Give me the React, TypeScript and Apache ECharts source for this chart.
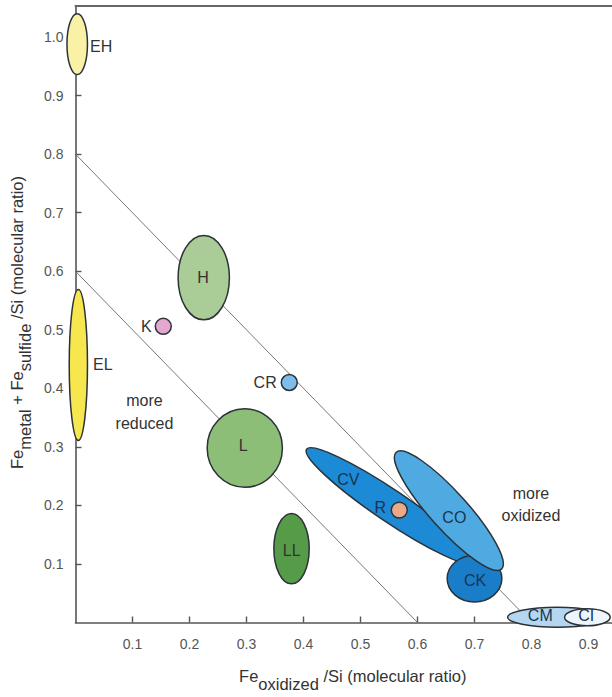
import { useEffect, useRef } from 'react';
import * as echarts from 'echarts';

// Chondrite groups: centre and half-extent of each field, in molecular ratios
const groups = ['EH', 'EL', 'H', 'L', 'LL', 'K', 'CR', 'CV', 'CK', 'CO', 'R', 'CM', 'CI'];
const centerOx = [0.003, 0.005, 0.225, 0.297, 0.379, 0.154, 0.375, 0.553, 0.7, 0.655, 0.568, 0.845, 0.898];
const centerRed = [0.988, 0.44, 0.589, 0.298, 0.126, 0.506, 0.41, 0.199, 0.075, 0.191, 0.192, 0.009, 0.009];
const spreadOx = [0.018, 0.016, 0.045, 0.066, 0.031, 0.014, 0.014, 0.178, 0.048, 0.138, 0.014, 0.087, 0.04];
const spreadRed = [0.052, 0.129, 0.072, 0.067, 0.06, 0.0136, 0.0136, 0.027, 0.04, 0.032, 0.0136, 0.017, 0.0145];
const tiltDeg = [0, 0, 0, 0, 0, 0, 0, -34, 0, -48, 0, 0, 0];

// Lines of constant total iron
const upperBoundary = [[0, 0.8], [0.8, 0]];
const lowerBoundary = [[0, 0.6], [0.6, 0]];

// Text annotations, anchored in data coordinates
const labelText = ['EH', 'EL', 'H', 'L', 'LL', 'K', 'CR', 'CV', 'CK', 'CO', 'R', 'CM', 'CI', 'more\nreduced', 'more\noxidized'];
const labelOx = [0.0254, 0.0307, 0.2237, 0.2944, 0.3793, 0.1337, 0.353, 0.4786, 0.7009, 0.6646, 0.5447, 0.8154, 0.8961, 0.121, 0.799];
const labelRed = [0.984, 0.44, 0.589, 0.303, 0.1227, 0.5058, 0.4106, 0.2445, 0.0717, 0.1794, 0.1964, 0.0122, 0.0122, 0.3596, 0.2015];

const xTicks = [0.1, 0.2, 0.3, 0.4, 0.5, 0.6, 0.7, 0.8, 0.9];
const yTicks = [0.1, 0.2, 0.3, 0.4, 0.5, 0.6, 0.7, 0.8, 0.9, 1.0];

const FONT = '"Liberation Sans", Arial, Helvetica, sans-serif';

const fills: Record<string, string> = {
  EH: '#f9f1a6', EL: '#f7e74e', H: '#aacc96', L: '#8cbe78', LL: '#569c48',
  K: '#e2a8cf', CR: '#7fbce9', CV: '#1c8ad5', CK: '#1a7dc8', CO: '#50aae2',
  R: '#eca98a', CM: '#b4d6f1', CI: '#eef5fb',
};
const labelAlign: Record<string, string> = { EH: 'left', EL: 'left', K: 'right', CR: 'right', R: 'right' };
const blueText = new Set(['CV', 'CK', 'CO', 'R', 'CM', 'CI']);

export default function App() {
  const ref = useRef<HTMLDivElement>(null);

  useEffect(() => {
    if (!ref.current) return;
    const chart = echarts.init(ref.current, undefined, { renderer: 'svg' });

    const titleRich = {
      main: { fontFamily: FONT, fontSize: 16.5, color: '#333', lineHeight: 20, padding: [0, 0, 8, 0] },
      sub: { fontFamily: FONT, fontSize: 16.5, color: '#333', lineHeight: 20, padding: [8, 0, 0, 0] },
    };

    chart.setOption({
      animation: false,
      grid: { left: 75.5, right: 0, top: 5.5, bottom: 71.5, containLabel: false },
      xAxis: [
        {
          type: 'value', min: 0, max: 0.9412, position: 'bottom',
          splitLine: { show: false },
          axisLine: { lineStyle: { color: '#555', width: 1.6 } },
          axisTick: { inside: true, length: 6, customValues: xTicks, lineStyle: { color: '#555', width: 1.4 } },
          axisLabel: {
            customValues: xTicks, margin: 14, color: '#555', fontFamily: FONT, fontSize: 14,
            formatter: (v: number) => v.toFixed(1),
          },
          name: '{main|Fe}{sub|oxidized}{main| /Si (molecular ratio)}',
          nameLocation: 'middle', nameGap: 47,
          nameTextStyle: { fontFamily: FONT, fontSize: 16.5, color: '#333', padding: [0, 0, 0, 18], rich: titleRich },
        },
        {
          type: 'value', min: 0, max: 0.9412, position: 'top',
          splitLine: { show: false }, axisTick: { show: false }, axisLabel: { show: false },
          axisLine: { lineStyle: { color: '#666', width: 2 } },
        },
      ],
      yAxis: {
        type: 'value', min: 0, max: 1.054,
        splitLine: { show: false },
        axisLine: { lineStyle: { color: '#555', width: 1.6 } },
        axisTick: { inside: true, length: 6, customValues: yTicks, lineStyle: { color: '#555', width: 1.4 } },
        axisLabel: {
          customValues: yTicks, margin: 12, color: '#555', fontFamily: FONT, fontSize: 14,
          formatter: (v: number) => v.toFixed(1),
        },
        name: '{main|Fe}{sub|metal}{main| + Fe}{sub|sulfide}{main| /Si (molecular ratio)}',
        nameLocation: 'middle', nameRotate: 90, nameGap: 24,
        nameTextStyle: { fontFamily: FONT, fontSize: 16.5, color: '#333', padding: [0, 17, 0, 0], rich: titleRich },
      },
      series: [
        {
          type: 'line', data: upperBoundary, symbol: 'none', silent: true, z: 1,
          lineStyle: { color: '#777', width: 1 },
        },
        {
          type: 'line', data: lowerBoundary, symbol: 'none', silent: true, z: 1,
          lineStyle: { color: '#777', width: 1 },
        },
        {
          type: 'custom', z: 3, clip: false, silent: true,
          data: groups.map((g, i) => [centerOx[i], centerRed[i], spreadOx[i], spreadRed[i], tiltDeg[i]]),
          encode: { x: 0, y: 1 },
          renderItem: (params: any, api: any) => {
            const c = api.coord([api.value(0), api.value(1)]);
            const s = api.size([api.value(2), api.value(3)]);
            const name = groups[params.dataIndex];
            return {
              type: 'ellipse',
              x: c[0], y: c[1],
              rotation: (api.value(4) * Math.PI) / 180,
              shape: { cx: 0, cy: 0, rx: s[0], ry: s[1] },
              style: { fill: fills[name], stroke: '#2b3238', lineWidth: 1.5 },
            };
          },
        },
        {
          type: 'custom', z: 4, clip: false, silent: true,
          data: labelText.map((t, i) => [labelOx[i], labelRed[i]]),
          encode: { x: 0, y: 1 },
          renderItem: (params: any, api: any) => {
            const c = api.coord([api.value(0), api.value(1)]);
            const text = labelText[params.dataIndex];
            const align = labelAlign[text] || 'center';
            return {
              type: 'text',
              x: c[0], y: c[1],
              style: {
                text,
                fill: blueText.has(text) ? '#173552' : '#333',
                fontFamily: FONT, fontSize: 16,
                align, verticalAlign: 'middle', lineHeight: 22.5,
              },
            };
          },
        },
      ],
    });

    return () => chart.dispose();
  }, []);

  return <div ref={ref} style={{ position: 'absolute', left: 0, top: 0, width: 612, height: 697 }} />;
}
